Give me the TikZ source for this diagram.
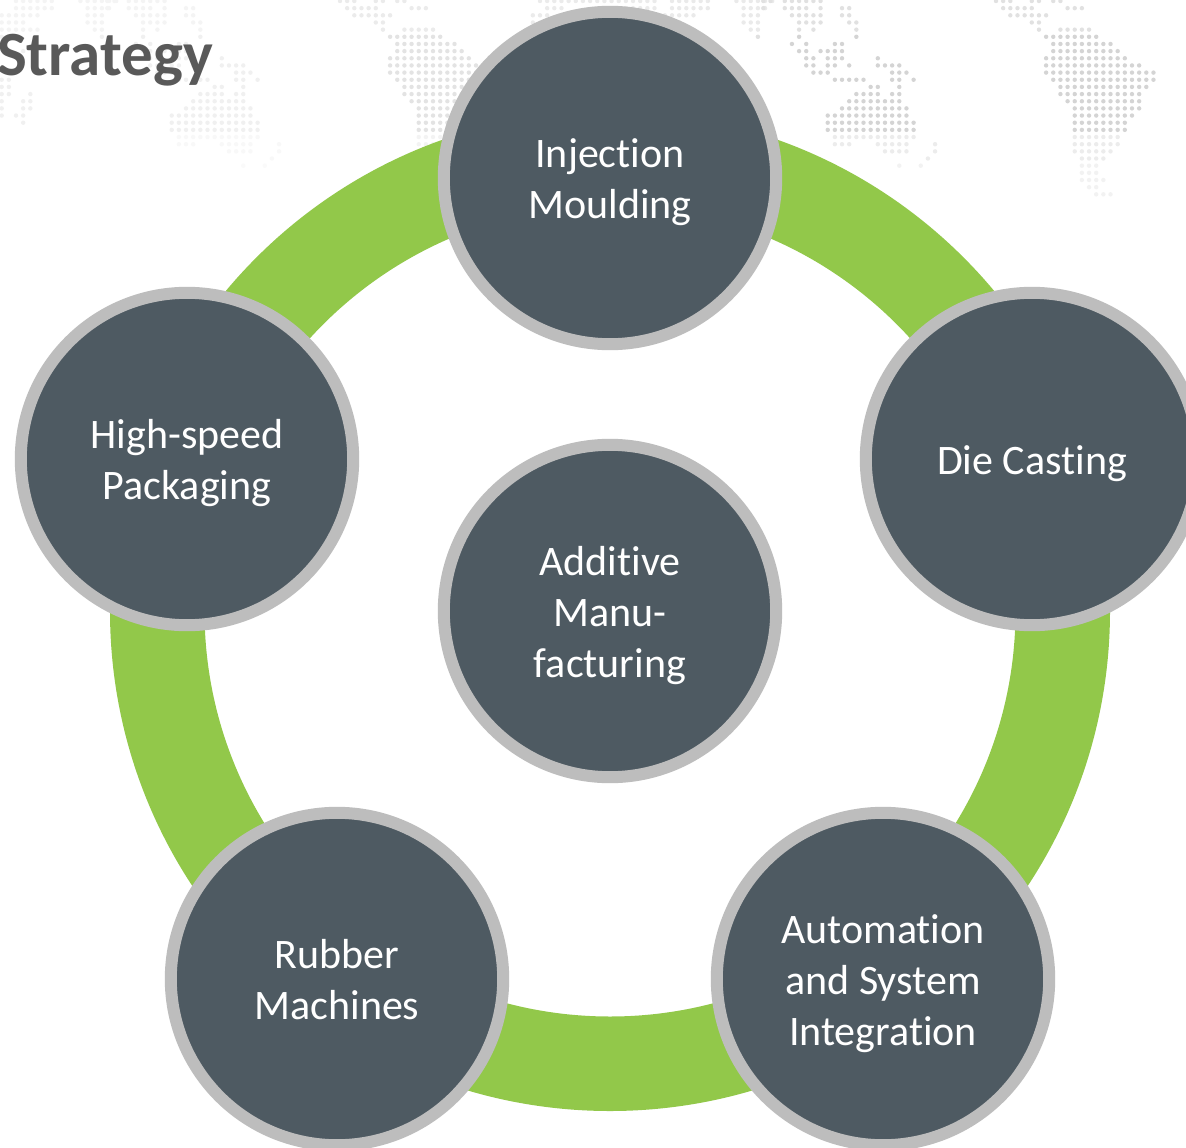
\documentclass[tikz,border=0pt]{standalone}
\usepackage{fontspec}
\setmainfont[RawFeature={-liga}]{Carlito}
\definecolor{ringgreen}{HTML}{92C84A}
\definecolor{discfill}{HTML}{4E5A62}
\definecolor{discedge}{HTML}{BDBDBD}
\definecolor{titlegrey}{HTML}{595959}
% run lists: row/first column/last column
\def\runsA{0/0/1,0/3/8,1/0/0,1/3/6,1/8/8,1/11/12,2/4/8,2/11/12,3/5/8,3/12/13,4/5/5,4/7/7,4/13/13,5/5/5,5/13/13,6/4/4,6/6/6,6/10/11,7/5/6,7/8/11,8/6/7,8/9/11,8/16/16,9/6/7,9/9/10,9/12/12,9/16/19,10/7/9,10/18/20,11/10/14,11/18/19,11/21/21,12/15/16,12/19/19,13/13/16,13/18/19,14/12/19,15/11/20,16/9/20,17/9/21,18/9/21,19/10/21,20/10/12,20/16/20,20/24/24,21/17/20,21/24/24,22/23/23,23/19/19,23/22/22}
\def\runsB{0/0/2,0/5/6,0/8/9,1/1/5,1/10/12,2/2/7,3/5/6,4/6/6,4/9/13,5/7/14,6/8/16,7/8/17,8/7/18,9/7/20,10/7/22,11/8/22,12/9/21,13/9/20,14/10/20,15/11/20,16/11/19,17/11/18,18/11/18,19/11/17,20/11/17,21/11/16,22/12/15,23/12/14,24/12/14,25/12/15,26/13/14,27/14/16}
\def\runsL{0/2/7,0/11/16,1/2/7,1/12/15,2/0/5,2/12/14,3/0/3,3/12/14,4/0/5,4/13/14,5/0/1,5/14/14,6/0/0,7/3/3,11/0/1,12/0/1,13/0/1,13/4/4,14/0/0,14/3/4,15/0/0,15/3/4,16/0/0,16/2/3,17/3/3}
\def\runsM{0/0/16,1/1/3,1/12/16,2/-1/1,3/-1/-1}
\newcommand{\dotmapsingle}[3]{% origin x, run list, darkness of the map's middle band
  \foreach \r/\a/\b in #2 {
    \pgfmathsetmacro{\tone}{#3*(\r<5 ? 0.7 : (\r<19 ? 1 : (\r<23 ? 0.45 : 0.3)))}
    \foreach \c in {\a,...,\b} {
      \fill[black!\tone] ({#1+7.157*\c},{1+7.16*\r}) circle (2.2);
    }
  }
}
\newcommand{\ls}{\rule[-10pt]{0pt}{50pt}}
\tikzset{
  disc/.style={circle,draw=discedge,line width=12pt,fill=discfill,minimum size=332.4pt,inner sep=0pt,
    text=white,align=center,font=\fontsize{42}{51}\selectfont},
  ringband/.style={fill=ringgreen,even odd rule},
  titletext/.style={anchor=base west,inner sep=0pt,text=titlegrey,font=\fontsize{63}{66}\selectfont\bfseries}
}
\begin{document}
\begin{tikzpicture}[x=1pt,y=-1pt]
\clip (0,0) rectangle (1186,1148);
\fill[white] (0,0) rectangle (1186,1148);
% background dotted map
\dotmapsingle{1.7}{\runsL}{6}
\dotmapsingle{107.3}{\runsA}{6}
\dotmapsingle{340}{\runsB}{11}
\dotmapsingle{540}{\runsM}{11}
\dotmapsingle{657.7}{\runsL}{12}
\dotmapsingle{763.3}{\runsA}{17}
\dotmapsingle{996}{\runsB}{17}
% ring
\path[ringband] (610,611) circle (500) (610,611) circle (405.5);
% discs
\node[disc] (moulding) at (610,178) {\ls Injection\\Moulding\ls};
\node[disc] (casting) at (1032,459) {\ls Die Casting\ls};
\node[disc] (automation) at (883,979) {\ls Automation\\and System\\Integration\ls};
\node[disc] (rubber) at (337,979) {\ls Rubber\\Machines\ls};
\node[disc] (packaging) at (187,459) {\ls High-speed\\Packaging\ls};
\node[disc] (additive) at (610,611) {\ls Additive\\Manu-\\facturing\ls};
\node[titletext] (title) at (-3,75) {Strategy};
\end{tikzpicture}
\end{document}
